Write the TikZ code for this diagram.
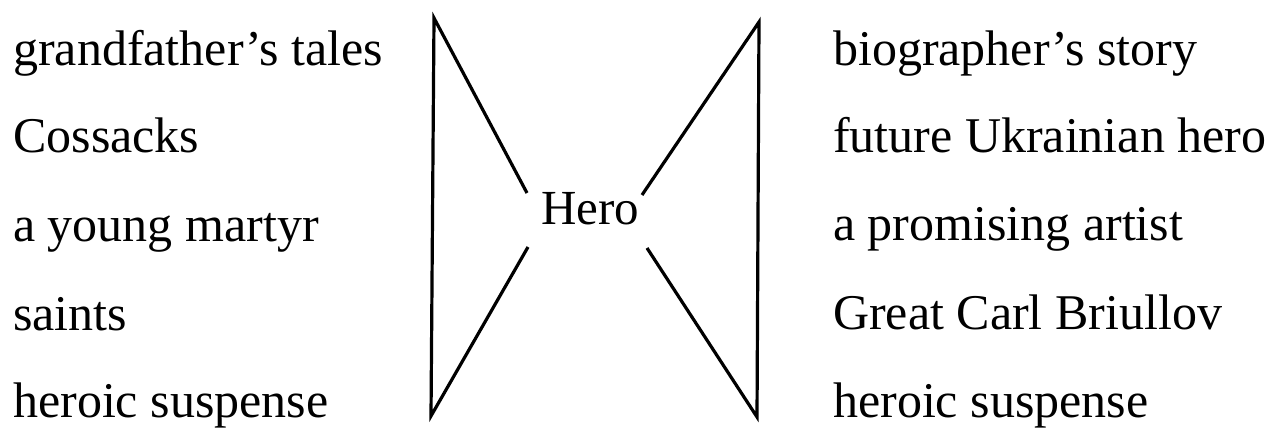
\documentclass[tikz,border=0pt]{standalone}
\usepackage{fontspec}
\setmainfont{Liberation Serif}
\begin{document}
\begin{tikzpicture}[x={(1pt,0)},y={(0,-1pt)},
  lbl/.style={anchor=base west,inner sep=0pt,font=\fontsize{50}{58}\selectfont},
  hero/.style={anchor=base,inner sep=0pt,font=\fontsize{49}{56}\selectfont},
  bow/.style={line width=3.2pt,line join=miter}]
\useasboundingbox (0,0) rectangle (1273,428);
% left column
\node[lbl] (l1) at (13,65) {grandfather’s tales};
\node[lbl] (l2) at (13,152) {Cossacks};
\node[lbl] (l3) at (13,241) {a young martyr};
\node[lbl] (l4) at (13,330) {saints};
\node[lbl] (l5) at (13,417) {heroic suspense};
% right column
\node[lbl] (r1) at (833,65) {biographer’s story};
\node[lbl] (r2) at (833,152) {future Ukrainian hero};
\node[lbl] (r3) at (833,240) {a promising artist};
\node[lbl] (r4) at (833,329) {Great Carl Briullov};
\node[lbl] (r5) at (833,417) {heroic suspense};
% centre
\node[hero] (h) at (590,224) {Hero};
% bow shape coordinates
\coordinate (ltop) at (434,18);
\coordinate (lbot) at (431,416);
\coordinate (lul) at (527,193);
\coordinate (lll) at (528,247);
\coordinate (rtop) at (759,22);
\coordinate (rbot) at (757,417);
\coordinate (rul) at (642,195);
\coordinate (rll) at (647,248);
\draw[bow] (lul) -- (ltop) -- (lbot) -- (lll);
\draw[bow] (rul) -- (rtop) -- (rbot) -- (rll);
\end{tikzpicture}
\end{document}
